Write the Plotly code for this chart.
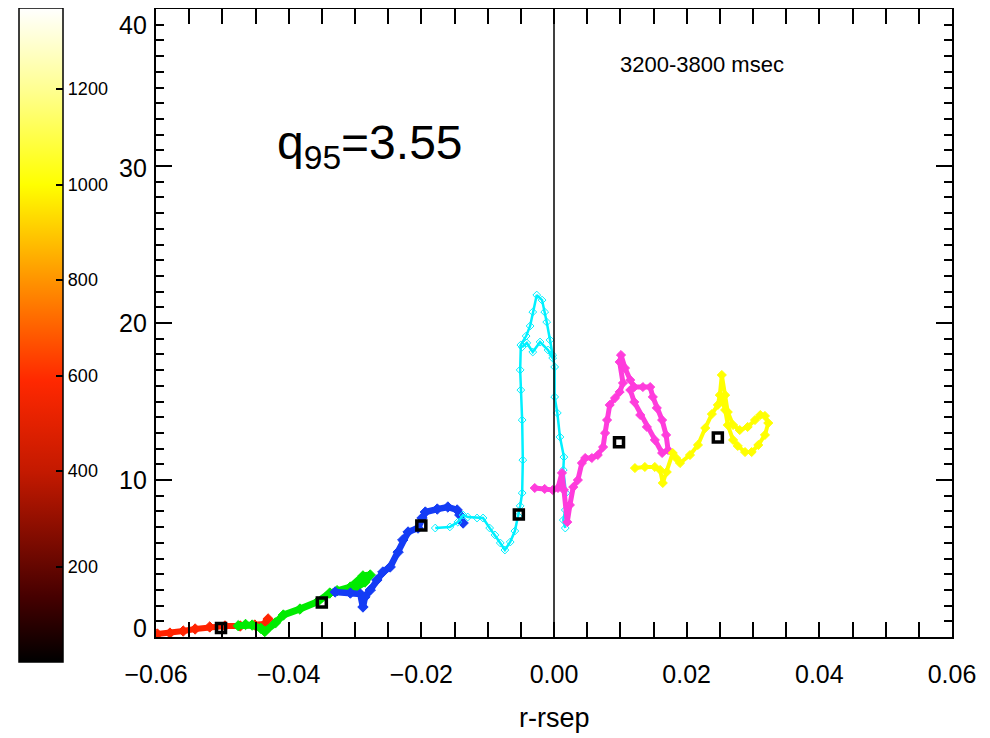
import plotly.graph_objects as go

# ---------------- data ----------------
red_x = [-0.0598, -0.0579, -0.0559, -0.0541, -0.0519, -0.0496, -0.0473, -0.0451, -0.0436, -0.0431]
red_y = [0.19, 0.25, 0.38, 0.51, 0.64, 0.70, 0.70, 0.76, 0.83, 1.15]

green_x = [-0.0476, -0.0465, -0.0455, -0.0442, -0.0436, -0.0420, -0.0408, -0.0383, -0.0357,
           -0.0338, -0.0327, -0.0307, -0.0288, -0.0277, -0.0285, -0.0300]
green_y = [0.72, 0.80, 0.76, 0.55, 0.35, 0.90, 1.40, 1.78, 2.23,
           2.80, 2.95, 3.18, 3.89, 3.95, 3.50, 3.10]

blue_x = [-0.0330, -0.0307, -0.0292, -0.0288, -0.0285, -0.0277, -0.0267, -0.0258, -0.0247,
          -0.0235, -0.0228, -0.0220, -0.0205, -0.0199, -0.0194, -0.0176, -0.0160, -0.0146,
          -0.0142, -0.0137]
blue_y = [2.87, 2.80, 2.74, 1.91, 2.55, 2.99, 3.63, 4.14, 4.46,
          5.41, 6.18, 6.69, 6.94, 7.58, 7.96, 8.15, 8.28, 8.09,
          7.77, 7.26]

cyan_x = [-0.0179, -0.0157, -0.0145, -0.0137, -0.0130, -0.0116, -0.0107, -0.0097, -0.0089,
          -0.0081, -0.0074, -0.0066, -0.0059, -0.0054, -0.0051, -0.0048, -0.0047, -0.0048,
          -0.0050, -0.0051, -0.0050, -0.0042, -0.0036, -0.0032, -0.0026, -0.0018, -0.0014,
          -0.0011, -0.0006, -0.0002, 0.0001, 0.0001, 0.0005, 0.0009, 0.0015, 0.0014, 0.0018,
          0.0017, 0.0014, 0.0017,
          None,
          -0.0048, -0.0041, -0.0032, -0.0021, -0.0009, -0.0002]
cyan_y = [6.94, 7.01, 7.32, 7.77, 7.64, 7.58, 7.58, 6.94, 6.50,
          5.99, 5.54, 6.05, 6.75, 7.70, 8.35, 9.17, 11.27, 13.82,
          15.73, 17.01, 18.60, 19.17, 19.81, 20.70, 21.78, 21.46, 20.70,
          20.06, 18.92, 17.96, 17.20, 15.29, 14.27, 12.74, 11.46, 10.64, 9.17,
          8.09, 7.45, 6.94,
          None,
          18.47, 18.73, 18.15, 18.79, 18.28, 17.77]

magenta_x = [-0.0029, -0.0014, -0.0002, 0.0006, 0.0012, 0.0015, 0.0020, 0.0024, 0.0029,
             0.0036, 0.0042, 0.0047, 0.0057, 0.0066, 0.0074, 0.0077, 0.0080, 0.0084,
             0.0092, 0.0099, 0.0104, 0.0099, 0.0101, 0.0107, 0.0115, 0.0121, 0.0134,
             0.0145, 0.0149, 0.0155, 0.0163, 0.0169, 0.0172, 0.0163, 0.0152, 0.0140,
             0.0130, 0.0121, 0.0115]
magenta_y = [9.49, 9.43, 9.36, 9.49, 10.45, 9.36, 7.32, 8.41, 9.55,
             10.00, 11.08, 11.40, 11.40, 11.59, 12.10, 12.99, 13.82, 14.78,
             15.22, 15.61, 16.18, 17.52, 17.96, 17.13, 16.37, 15.92, 15.92,
             15.92, 15.29, 14.59, 13.82, 12.87, 11.91, 11.72, 12.55, 13.38,
             14.14, 14.97, 15.73]

yellow_x = [0.0122, 0.0137, 0.0152, 0.0160, 0.0164, 0.0170, 0.0179, 0.0184, 0.0190,
            0.0205, 0.0217, 0.0228, 0.0238, 0.0247, 0.0250, 0.0253, 0.0258, 0.0262,
            0.0270, 0.0280, 0.0292, 0.0303, 0.0311, 0.0318, 0.0323, 0.0318, 0.0308,
            0.0298, 0.0288, 0.0277, 0.0270, 0.0262, 0.0258, 0.0253]
yellow_y = [10.76, 10.83, 10.83, 10.64, 9.81, 10.51, 11.72, 11.40, 11.08,
            11.59, 12.23, 13.31, 14.20, 14.78, 15.41, 16.69, 15.41, 14.33,
            13.50, 13.18, 13.38, 13.82, 14.14, 14.08, 13.63, 12.87, 12.23,
            11.78, 11.78, 12.17, 12.55, 13.50, 14.46, 15.10]

mean_x = [-0.0502, -0.0350, -0.0200, -0.0053, 0.0098, 0.0247]
mean_y = [0.57, 2.2, 7.1, 7.8, 12.4, 12.7]

x_tickvals = [-0.06, -0.04, -0.02, 0.00, 0.02, 0.04, 0.06]
y_tickvals = [0, 10, 20, 30, 40]
y_label_shift = [9, 0, 0, -2, -16]
cbar_tickvals = [200, 400, 600, 800, 1000, 1200]
cbar_min, cbar_max = 0, 1370

label_q95 = "q<sub>95</sub>=3.55"
label_time = "3200-3800 msec"
label_x = "r-rsep"

FONT = "Liberation Sans, Arial, sans-serif"

hot = [[0.0, "rgb(0,0,0)"], [0.10, "rgb(70,0,0)"], [0.29, "rgb(195,25,0)"],
       [0.43, "rgb(255,40,0)"], [0.58, "rgb(255,145,0)"], [0.73, "rgb(255,255,0)"],
       [0.87, "rgb(255,255,140)"], [1.0, "rgb(255,255,255)"]]

fig = go.Figure()


def add_path(x, y, color, lw, sym, size):
    fig.add_trace(go.Scatter(x=x, y=y, mode="lines+markers", connectgaps=False,
                             line=dict(color=color, width=lw),
                             marker=dict(symbol=sym, size=size, color=color,
                                         line=dict(color=color, width=1)),
                             showlegend=False, hoverinfo="skip"))


add_path(red_x, red_y, "rgb(255,35,0)", 6, "diamond", 8)
add_path(green_x, green_y, "rgb(0,235,0)", 7, "diamond", 8)
add_path(blue_x, blue_y, "rgb(20,60,245)", 6.5, "diamond", 8)
add_path(cyan_x, cyan_y, "rgb(0,240,255)", 2.5, "diamond-open", 6)
add_path(magenta_x, magenta_y, "rgb(255,60,220)", 5, "diamond", 7)
add_path(yellow_x, yellow_y, "rgb(255,255,0)", 4, "diamond", 7)

fig.add_trace(go.Scatter(x=mean_x, y=mean_y, mode="markers",
                         marker=dict(symbol="square-open", size=9, color="black",
                                     line=dict(color="black", width=3.5)),
                         showlegend=False, hoverinfo="skip"))

# colour bar carrier (point lies outside the plotted range)
fig.add_trace(go.Scatter(x=[0.1], y=[100], mode="markers",
                         marker=dict(color=[0], cmin=cbar_min, cmax=cbar_max, colorscale=hot,
                                     showscale=True,
                                     colorbar=dict(x=(19 - 156) / 796, xanchor="left",
                                                   y=(637 - 335) / 628, yanchor="middle",
                                                   thickness=44, thicknessmode="pixels",
                                                   len=654, lenmode="pixels",
                                                   xpad=0, ypad=0, borderwidth=0,
                                                   outlinewidth=1.5, outlinecolor="black",
                                                   tickvals=cbar_tickvals, ticks="inside",
                                                   ticklen=7, tickwidth=1.5, tickcolor="black",
                                                   tickfont=dict(family=FONT, size=18,
                                                                 color="black"))),
                         showlegend=False, hoverinfo="skip"))

fig.add_vline(x=0, line=dict(color="black", width=1.5))

fig.update_xaxes(range=[-0.06, 0.06], tickvals=x_tickvals, tickformat=".2f",
                 ticks="inside", ticklen=15, tickwidth=1.5, tickcolor="black",
                 minor=dict(dtick=0.005, tick0=0, ticks="inside", ticklen=15,
                            tickwidth=1.5, tickcolor="black"),
                 showline=True, linecolor="black", linewidth=2, mirror="allticks",
                 showgrid=False, zeroline=False, ticklabelstandoff=14,
                 tickfont=dict(family=FONT, size=25, color="black"))
fig.update_yaxes(range=[0, 40], tickvals=y_tickvals, showticklabels=False,
                 ticks="inside", ticklen=16, tickwidth=1.5, tickcolor="black",
                 minor=dict(dtick=1, tick0=0, ticks="inside", ticklen=8,
                            tickwidth=1.5, tickcolor="black"),
                 showline=True, linecolor="black", linewidth=2, mirror="allticks",
                 showgrid=False, zeroline=False)

annotations = []
for v, s in zip(y_tickvals, y_label_shift):
    annotations.append(dict(x=0, xref="paper", y=v, yref="y", text=str(v), showarrow=False,
                            xanchor="right", yanchor="middle", xshift=-7, yshift=s,
                            font=dict(family=FONT, size=25, color="black")))
annotations.append(dict(x=(370 - 156) / 796, y=(637 - 146) / 628, xref="paper", yref="paper",
                        text=label_q95, showarrow=False, xanchor="center", yanchor="middle",
                        font=dict(family=FONT, size=48, color="black")))
annotations.append(dict(x=(702 - 156) / 796, y=(637 - 64) / 628, xref="paper", yref="paper",
                        text=label_time, showarrow=False, xanchor="center", yanchor="middle",
                        font=dict(family=FONT, size=22, color="black")))
annotations.append(dict(x=0.5, y=(637 - 718) / 628, xref="paper", yref="paper",
                        text=label_x, showarrow=False, xanchor="center", yanchor="middle",
                        font=dict(family=FONT, size=27, color="black")))

# the page adds an 8 px body margin, so the figure is sized/offset to compensate
fig.update_layout(width=974, height=730,
                  margin=dict(l=148, r=30, t=1, b=101, autoexpand=False),
                  paper_bgcolor="white", plot_bgcolor="white", annotations=annotations)

fig.write_html("out.html")
